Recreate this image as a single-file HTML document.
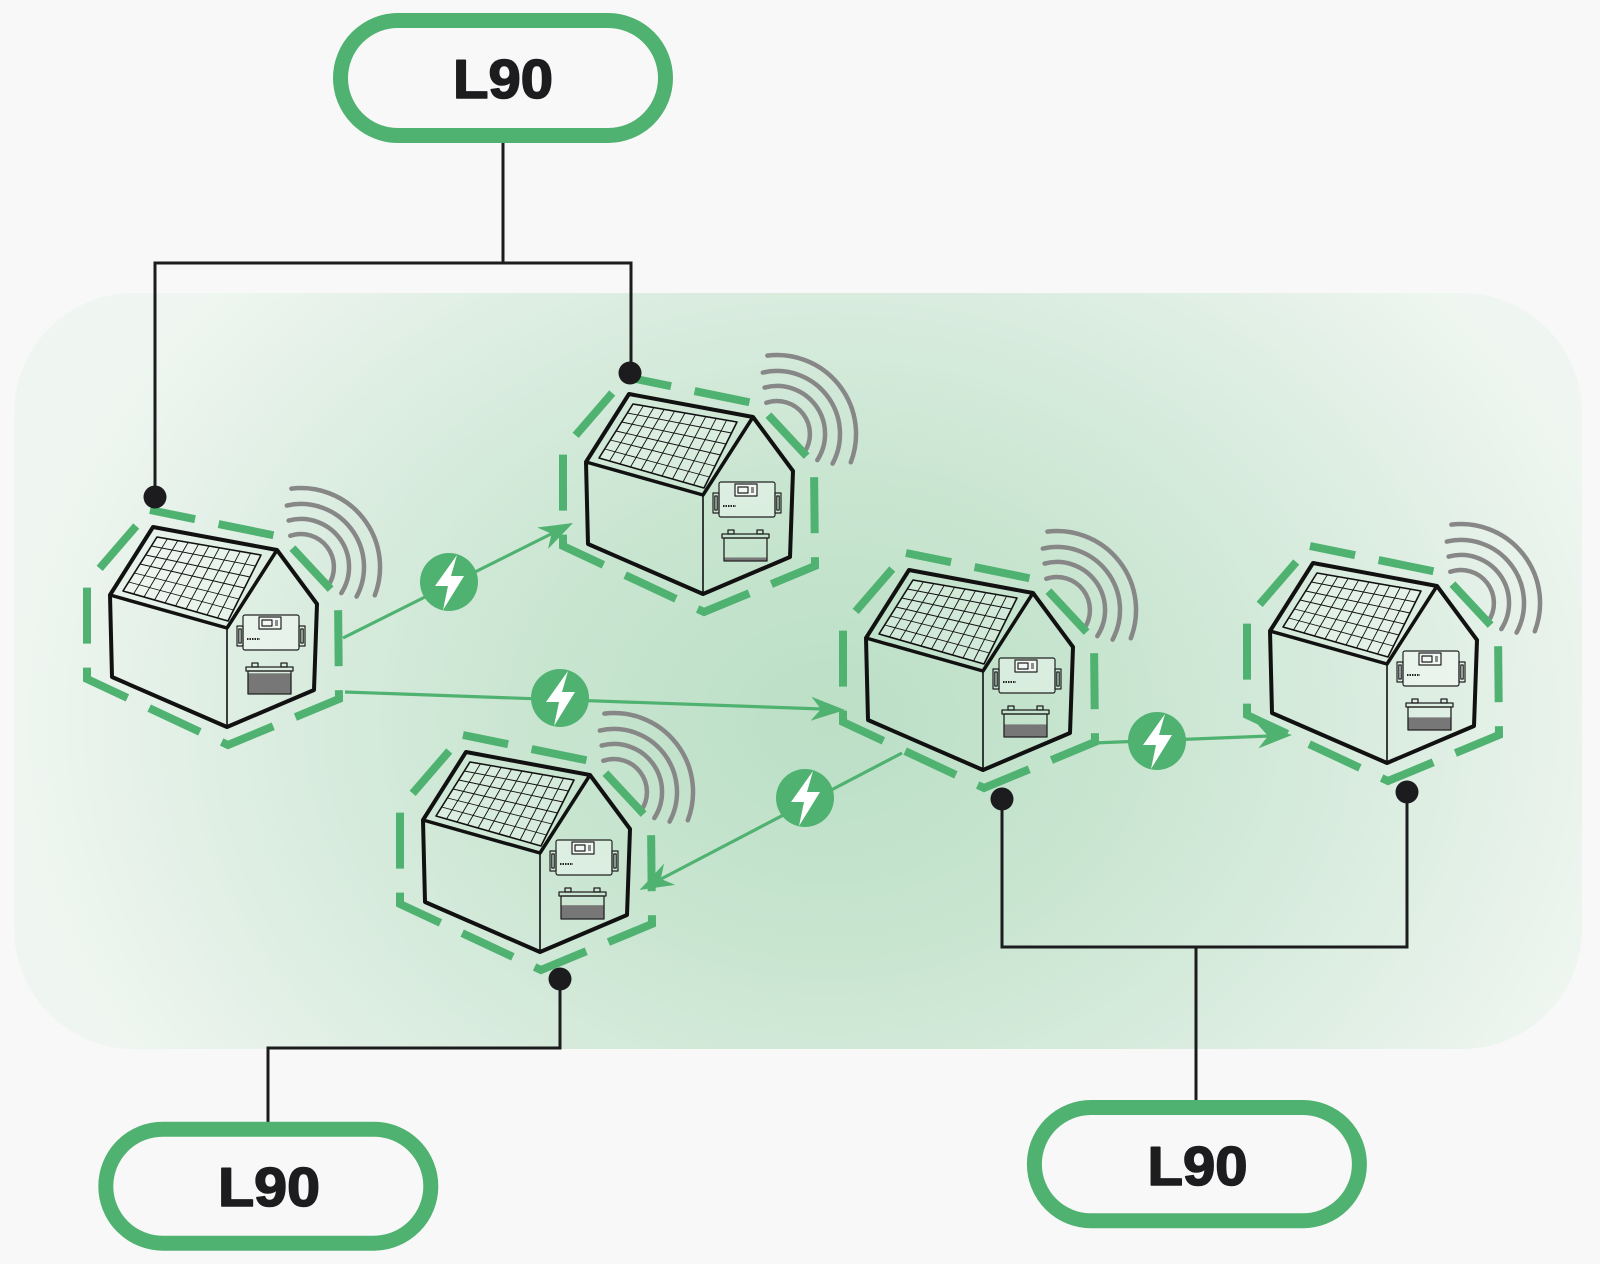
<!DOCTYPE html>
<html><head><meta charset="utf-8"><style>html,body{margin:0;padding:0;background:#f8f8f8;}svg{display:block}</style></head>
<body>
<svg width="1600" height="1264" viewBox="0 0 1600 1264" xmlns="http://www.w3.org/2000/svg" xmlns:xlink="http://www.w3.org/1999/xlink">
<defs>
 <radialGradient id="bg" gradientUnits="userSpaceOnUse" cx="830" cy="720" r="820" gradientTransform="translate(830 720) scale(1 0.8) translate(-830 -720)">
  <stop offset="0" stop-color="#bcdfc6"/>
  <stop offset="0.35" stop-color="#c8e5d0"/>
  <stop offset="0.7" stop-color="#dcede1"/>
  <stop offset="1" stop-color="#eff6f1"/>
 </radialGradient>
 <g id="house" fill="none" stroke="#111" stroke-linejoin="round">
  <polygon points="-70,-190 34,-172 1,-106 -104,-136" fill="#ffffff" fill-opacity="0.25" stroke-width="1.6"/>
  <path stroke-width="0.9" d="M-59.6,-188.2 L-93.5,-133 M-49.2,-186.4 L-83,-130 M-38.8,-184.6 L-72.5,-127 M-28.4,-182.8 L-62,-124 M-18,-181 L-51.5,-121 M-7.6,-179.2 L-41,-118 M2.8,-177.4 L-30.5,-115 M13.2,-175.6 L-20,-112 M23.6,-173.8 L-9.5,-109 M-75.7,-181 L28.5,-161 M-81.3,-172 L23,-150 M-87,-163 L17.5,-139 M-92.7,-154 L12,-128 M-98.3,-145 L6.5,-117"/>
  <polygon points="-74,-200 50,-177 90,-123 87,-37 0,0 -115,-50 -117,-132" stroke-width="4"/>
  <path d="M-117,-132 L0,-99 L50,-177" stroke-width="3.5"/>
  <path d="M0,-99 L0,0" stroke-width="1.6"/>
  <g stroke-width="1.2" stroke="#222">
   <rect x="16" y="-112" width="56" height="35" rx="2" fill="#ffffff" fill-opacity="0.35"/>
   <rect x="10" y="-101" width="6" height="20"/>
   <rect x="11.8" y="-98" width="2.4" height="14"/>
   <rect x="72" y="-101" width="6" height="20"/>
   <rect x="73.8" y="-98" width="2.4" height="14"/>
   <rect x="32" y="-110" width="22" height="12" fill="#f4f8f5"/>
   <rect x="35" y="-107" width="10" height="6"/>
   <path d="M48,-106 h3 M48,-104 h3 M48,-102 h3" stroke-width="1"/>
   <path d="M20,-88 h13" stroke-width="2" stroke-dasharray="1.5 1"/>
  </g>
  <g stroke-width="1.3" stroke="#222">
   <rect x="19" y="-60" width="47" height="4"/>
   <rect x="21" y="-56" width="43" height="23"/>
   <rect x="25" y="-64" width="6" height="4"/>
   <rect x="54" y="-64" width="6" height="4"/>
  </g>
  <g stroke="#878787" stroke-width="4.5" stroke-linecap="round">
   <path d="M64.4,-238.4 A79,79 0 0 1 147.8,-131.7"/>
   <path d="M59.8,-221.4 A63,63 0 0 1 129.6,-130.4"/>
   <path d="M61.6,-206.4 A48,48 0 0 1 114.3,-133.9"/>
   <path d="M63.3,-191.2 A33,33 0 0 1 101,-141.1"/>
  </g>
  <polygon points="-77,-217 55,-190 111,-130 112,-28 1,18 -140,-48 -140,-144" stroke="#50b270" stroke-width="8" stroke-dasharray="56 24" stroke-dashoffset="10" stroke-linejoin="miter"/>
 </g>
 <g id="bolt">
  <circle cx="0" cy="0" r="29" fill="#50b270"/>
  <polygon points="8,-27 -14,4 -1,4 -6,28 15,-6 2,-6" fill="#ffffff"/>
 </g>
 <path id="arr" d="M0,0 L-34,-12 L-24,0 L-34,12 Z" fill="#50b270"/>
</defs>

<rect width="1600" height="1264" fill="#f8f8f8"/>
<rect x="14" y="293" width="1568" height="756" rx="120" fill="url(#bg)"/>

<!-- green connectors -->
<g stroke="#50b270" stroke-width="3.2" fill="none">
 <path d="M343,638 L553,533"/>
 <path d="M345,692 L822,709"/>
 <path d="M902,753 L661,879"/>
 <path d="M1093,743 L1269,736"/>
</g>

<!-- battery fill levels -->
<g fill="#777">
 <rect x="248" y="673.3" width="43" height="20.7"/>
 <rect x="724" y="557.5" width="43" height="3.5"/>
 <rect x="561" y="905.2" width="43" height="13.8"/>
 <rect x="1004" y="724.4" width="43" height="12.6"/>
 <rect x="1408" y="717.4" width="43" height="12.6"/>
</g>

<!-- houses -->
<use xlink:href="#house" href="#house" transform="translate(227,727)"/>
<use xlink:href="#house" href="#house" transform="translate(703,594)"/>
<use xlink:href="#house" href="#house" transform="translate(540,952)"/>
<use xlink:href="#house" href="#house" transform="translate(983,770)"/>
<use xlink:href="#house" href="#house" transform="translate(1387,763)"/>

<!-- lightning circles -->
<use xlink:href="#bolt" href="#bolt" transform="translate(449,582)"/>
<use xlink:href="#bolt" href="#bolt" transform="translate(560,698)"/>
<use xlink:href="#bolt" href="#bolt" transform="translate(805,798)"/>
<use xlink:href="#bolt" href="#bolt" transform="translate(1157,741)"/>

<!-- arrowheads -->
<use xlink:href="#arr" href="#arr" transform="translate(573,523) rotate(-26.7)"/>
<use xlink:href="#arr" href="#arr" transform="translate(845,710) rotate(2.1)"/>
<use xlink:href="#arr" href="#arr" transform="translate(639.5,890) rotate(152.4)"/>
<use xlink:href="#arr" href="#arr" transform="translate(1292,735) rotate(-2.2)"/>

<!-- black connectors -->
<g stroke="#1c1c1e" stroke-width="3" fill="none" stroke-linejoin="miter">
 <path d="M503,140 V263 M155,497 V263 H631 V373"/>
 <path d="M560,979 V1048 H268 V1128"/>
 <path d="M1002,799 V947 H1407 V792 M1196,947 V1104"/>
</g>
<g fill="#1c1c1e">
 <circle cx="155" cy="497" r="11.5"/>
 <circle cx="630" cy="373" r="11.5"/>
 <circle cx="560" cy="979" r="11.5"/>
 <circle cx="1002" cy="799" r="11.5"/>
 <circle cx="1407" cy="792" r="11.5"/>
</g>

<!-- pills -->
<g fill="#f8f8f8" stroke="#50b270" stroke-width="15">
 <rect x="340.5" y="20.5" width="325" height="115" rx="57.5"/>
 <rect x="105.8" y="1129.2" width="325" height="114" rx="57"/>
 <rect x="1034.4" y="1107.5" width="325" height="113.3" rx="56.6"/>
</g>
<g font-family="'Liberation Sans', Arial, sans-serif" font-weight="bold" font-size="55" fill="#1d1d1f" stroke="#1d1d1f" stroke-width="1.6" stroke-linejoin="round" text-anchor="middle">
 <text x="503" y="98" textLength="100" lengthAdjust="spacingAndGlyphs">L90</text>
 <text x="269" y="1206" textLength="102" lengthAdjust="spacingAndGlyphs">L90</text>
 <text x="1197.5" y="1185" textLength="100" lengthAdjust="spacingAndGlyphs">L90</text>
</g>
</svg>
</body></html>
